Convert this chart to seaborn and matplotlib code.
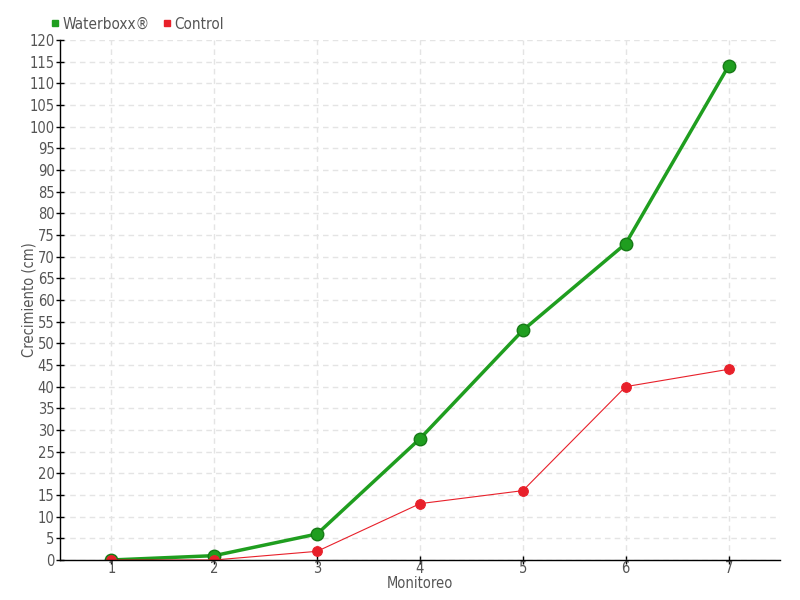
import matplotlib
matplotlib.use("Agg")
import matplotlib.pyplot as plt
import seaborn as sns
import pandas as pd
from matplotlib.lines import Line2D

# data
monitoreo = [1, 2, 3, 4, 5, 6, 7]
waterboxx = [0, 1, 6, 28, 53, 73, 114]
control = [0, 0, 2, 13, 16, 40, 44]

df = pd.DataFrame({"Monitoreo": monitoreo, "Waterboxx": waterboxx, "Control": control})

sns.set_theme(style="white")
plt.rcParams["font.family"] = ["DejaVu Sans"]
plt.rcParams["font.stretch"] = "condensed"

GREEN = "#1f9e1f"
RED = "#e8202a"
TXT = "#555555"

fig = plt.figure(figsize=(8, 6), dpi=100)
ax = fig.add_axes([0.075, 0.0667, 0.9, 0.8667])

sns.lineplot(data=df, x="Monitoreo", y="Waterboxx", ax=ax, color=GREEN, linewidth=2.5,
             marker="o", markersize=9, markerfacecolor=GREEN, markeredgecolor="#167a16",
             markeredgewidth=1)
sns.lineplot(data=df, x="Monitoreo", y="Control", ax=ax, color=RED, linewidth=0.8,
             marker="o", markersize=7, markerfacecolor=RED, markeredgecolor=RED)

ax.set_xlim(0.5, 7.5)
ax.set_ylim(0, 120)
ax.set_xticks(monitoreo)
ax.set_yticks(range(0, 121, 5))
ax.grid(True, color="#e4e4e4", linestyle=(0, (4, 3)), linewidth=1)
for s in ["top", "right"]:
    ax.spines[s].set_visible(False)
for s in ["left", "bottom"]:
    ax.spines[s].set_color("black")
    ax.spines[s].set_linewidth(1)
ax.tick_params(axis="y", direction="inout", length=6, width=1, color="black",
               labelsize=10.5, labelcolor=TXT, pad=1, left=True)
ax.tick_params(axis="x", direction="inout", length=6, width=1, color="black",
               labelsize=10.5, labelcolor=TXT, pad=-2, bottom=True)
ax.set_xlabel("Monitoreo", fontsize=10.5, color=TXT, labelpad=0)
ax.set_ylabel("Crecimiento (cm)", fontsize=10.5, color=TXT)
ax.yaxis.set_label_coords(-0.032, 0.5)

handles = [Line2D([], [], linestyle="", marker="s", markersize=5, color=GREEN),
           Line2D([], [], linestyle="", marker="s", markersize=5, color=RED)]
leg = fig.legend(handles, ["Waterboxx®", "Control"], loc="upper left",
                 bbox_to_anchor=(0.042, 0.995), ncol=2, frameon=False,
                 fontsize=11, handletextpad=0.0, columnspacing=0.6, handlelength=1)
for t in leg.get_texts():
    t.set_color(TXT)

fig.savefig("out.png", dpi=100)
